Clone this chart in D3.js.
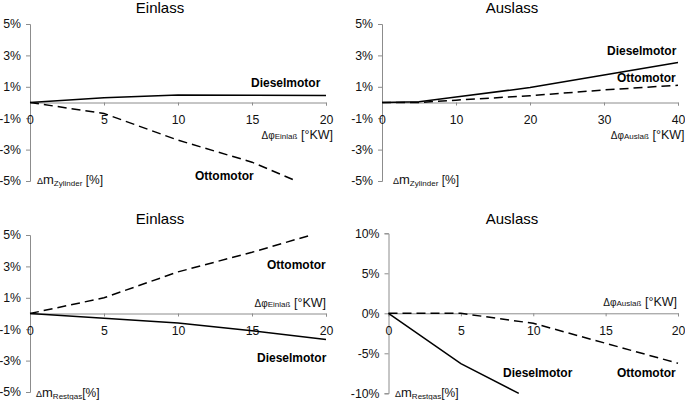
<!DOCTYPE html>
<html><head><meta charset="utf-8">
<script src="https://cdn.jsdelivr.net/npm/d3@7"></script>
<style>body{margin:0;background:#fff} svg{display:block;font-family:"Liberation Sans",Arial,sans-serif}</style>
</head><body><svg id="c" width="685" height="400"></svg>
<script>
// ---- data ----
const einlassX = [0, 5, 10, 15, 20];
const zylEinlassDiesel = [0, 0.3, 0.48, 0.46, 0.44];
const zylEinlassOttoX = [0, 5, 10, 15, 18];
const zylEinlassOtto = [0, -0.7, -2.4, -3.8, -5.0];
const auslassZylX = [0, 5, 10, 20, 30, 40];
const zylAuslassDiesel = [0, 0.05, 0.35, 0.95, 1.75, 2.55];
const zylAuslassOtto = [0, 0, 0.15, 0.43, 0.8, 1.1];
const restEinlassOttoX = [0, 5, 10, 15, 19];
const restEinlassOtto = [0, 1.0, 2.65, 3.9, 5.0];
const restEinlassDiesel = [0, -0.3, -0.6, -1.1, -1.65];
const restAuslassDieselX = [0, 5, 9];
const restAuslassDiesel = [0, -6.3, -10];
const restAuslassOttoX = [0, 5, 10, 15, 20];
const restAuslassOtto = [0, 0, -1.25, -3.75, -6.25];
const yTicksZyl = [-5, -3, -1, 1, 3, 5];
const yTicksRest = [-10, -5, 0, 5, 10];
const xTicks20 = [0, 5, 10, 15, 20];
const xTicks40 = [0, 10, 20, 30, 40];
const titles = ["Einlass", "Auslass", "Einlass", "Auslass"];
const seriesNames = ["Dieselmotor", "Ottomotor"];
const yLabelSubs = ["Zylinder", "Restgas"];
const xLabelSubs = ["Einlaß", "Auslaß"];

const svg = d3.select("#c");
const AXIS = "#8c8c8c";

function panel(cfg) {
  const x = d3.scaleLinear().domain(cfg.xDomain).range([cfg.left, cfg.right]);
  const y = d3.scaleLinear().domain(cfg.yDomain).range([cfg.bottom, cfg.top]);
  const g = svg.append("g");

  // title
  g.append("text").attr("x", cfg.titleX).attr("y", cfg.titleY)
    .attr("text-anchor", "middle").attr("font-size", 15).text(cfg.title);

  // y axis
  const ya = g.append("g").attr("transform", `translate(${cfg.left},0)`)
    .call(d3.axisLeft(y).tickValues(cfg.yTicks).tickSize(4).tickPadding(5)
      .tickFormat(d => d + "%"));
  // x axis at zero
  const xa = g.append("g").attr("transform", `translate(0,${y(0)})`)
    .call(d3.axisBottom(x).tickValues(cfg.xTicks).tickSize(3).tickPadding(10));
  [ya, xa].forEach(a => {
    a.selectAll("path").attr("stroke", AXIS);
    a.selectAll("line").attr("stroke", AXIS);
    a.selectAll("text").attr("font-size", 12.3).attr("fill", "#111")
      .attr("font-family", '"Liberation Sans",Arial,sans-serif');
  });

  // lines
  const line = d3.line().x(d => x(d[0])).y(d => y(d[1]));
  cfg.series.forEach(s => {
    g.append("path").datum(s.xs.map((v, i) => [v, s.ys[i]]))
      .attr("d", line).attr("fill", "none").attr("stroke", "#000")
      .attr("stroke-width", 1.5)
      .attr("stroke-dasharray", s.dash ? "9,5" : null);
  });

  // series labels
  cfg.labels.forEach(l => {
    g.append("text").attr("x", l.x).attr("y", l.y).attr("font-size", 12)
      .attr("font-weight", "bold").text(l.t);
  });

  // x axis label
  const xl = g.append("text").attr("x", cfg.xl[0]).attr("y", cfg.xl[1])
    .attr("text-anchor", "end").attr("fill", "#111");
  xl.append("tspan").attr("font-size", 10).text("Δφ");
  xl.append("tspan").attr("font-size", 8).text(cfg.xSub);
  xl.append("tspan").attr("font-size", 12.5).text(" [°KW]");

  // y axis label
  const yl = g.append("text").attr("x", cfg.yl[0]).attr("y", cfg.yl[1]).attr("fill", "#111");
  yl.append("tspan").attr("font-size", 9).text("Δ");
  yl.append("tspan").attr("font-size", 13).text("m");
  yl.append("tspan").attr("font-size", 8).attr("dy", 2).text(cfg.ySub);
  yl.append("tspan").attr("font-size", 12).attr("dy", -2).text(cfg.yUnit);
}

panel({
  left: 30, right: 326, top: 24, bottom: 181,
  xDomain: [0, 20], yDomain: [-5, 5], xTicks: xTicks20, yTicks: yTicksZyl,
  title: titles[0], titleX: 160, titleY: 13,
  series: [
    { xs: einlassX, ys: zylEinlassDiesel, dash: false },
    { xs: zylEinlassOttoX, ys: zylEinlassOtto, dash: true }
  ],
  labels: [{ t: seriesNames[0], x: 251, y: 87 }, { t: seriesNames[1], x: 195, y: 180 }],
  xl: [333, 139], xSub: xLabelSubs[0],
  yl: [37, 184], ySub: yLabelSubs[0], yUnit: " [%]"
});

panel({
  left: 382, right: 678, top: 24, bottom: 181,
  xDomain: [0, 40], yDomain: [-5, 5], xTicks: xTicks40, yTicks: yTicksZyl,
  title: titles[1], titleX: 512, titleY: 13,
  series: [
    { xs: auslassZylX, ys: zylAuslassDiesel, dash: false },
    { xs: auslassZylX, ys: zylAuslassOtto, dash: true }
  ],
  labels: [{ t: seriesNames[0], x: 607, y: 55 }, { t: seriesNames[1], x: 617, y: 82 }],
  xl: [684.5, 139], xSub: xLabelSubs[1],
  yl: [393, 184], ySub: yLabelSubs[0], yUnit: " [%]"
});

panel({
  left: 30, right: 326, top: 235, bottom: 392,
  xDomain: [0, 20], yDomain: [-5, 5], xTicks: xTicks20, yTicks: yTicksZyl,
  title: titles[2], titleX: 160, titleY: 224,
  series: [
    { xs: restEinlassOttoX, ys: restEinlassOtto, dash: true },
    { xs: einlassX, ys: restEinlassDiesel, dash: false }
  ],
  labels: [{ t: seriesNames[1], x: 267, y: 269 }, { t: seriesNames[0], x: 257, y: 362 }],
  xl: [326, 307], xSub: xLabelSubs[0],
  yl: [36, 397], ySub: yLabelSubs[1], yUnit: "[%]"
});

panel({
  left: 388.5, right: 678, top: 233.3, bottom: 393.3,
  xDomain: [0, 20], yDomain: [-10, 10], xTicks: xTicks20, yTicks: yTicksRest,
  title: titles[3], titleX: 512, titleY: 224,
  series: [
    { xs: restAuslassDieselX, ys: restAuslassDiesel, dash: false },
    { xs: restAuslassOttoX, ys: restAuslassOtto, dash: true }
  ],
  labels: [{ t: seriesNames[0], x: 503, y: 377 }, { t: seriesNames[1], x: 617, y: 377 }],
  xl: [677, 306], xSub: xLabelSubs[1],
  yl: [395, 397], ySub: yLabelSubs[1], yUnit: "[%]"
});
</script></body></html>
